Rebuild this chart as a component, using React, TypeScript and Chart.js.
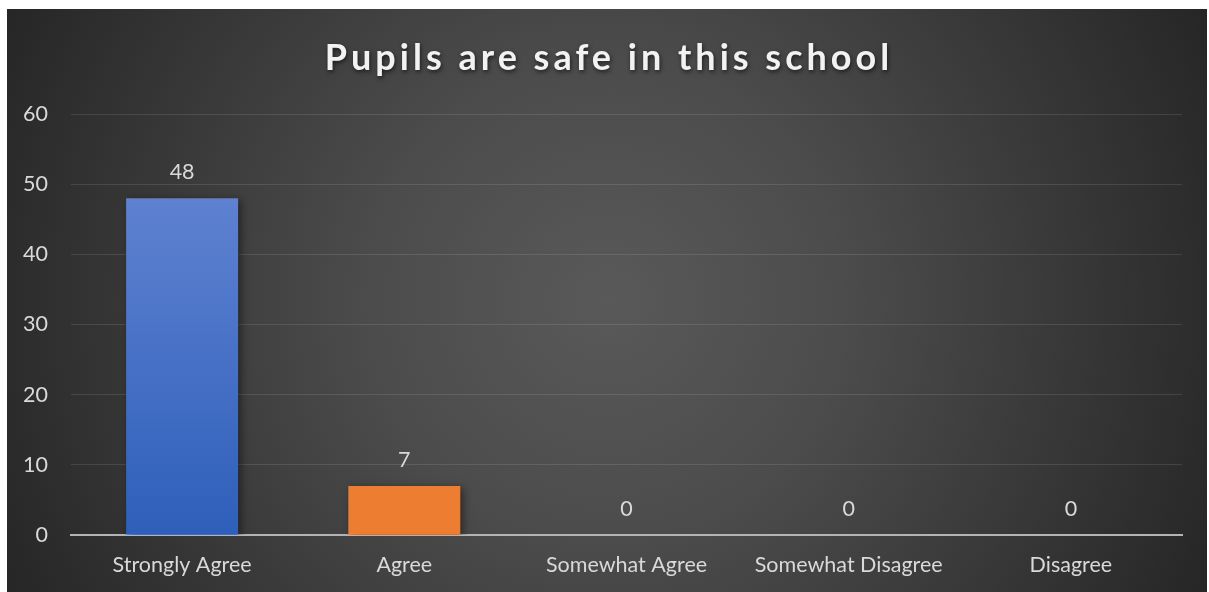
import React, { useEffect, useRef } from "react";
import { Chart, registerables } from "chart.js";

Chart.register(...registerables);

const title = "Pupils are safe in this school";
const categories = ["Strongly Agree", "Agree", "Somewhat Agree", "Somewhat Disagree", "Disagree"];
const responses = [48, 7, 0, 0, 0];
const yTicks = [0, 10, 20, 30, 40, 50, 60];

const W = 1200;
const H = 583;
const FONT = "Lato, 'Open Sans', sans-serif";
const TEXT = "#d9d9d9";
const FS = 21.5;

const bgPlugin = {
  id: "bgPlugin",
  beforeDraw(chart: any) {
    const { ctx, width, height } = chart;
    const cx = width / 2;
    const cy = height / 2;
    const r = Math.sqrt(cx * cx + cy * cy);
    const g = ctx.createRadialGradient(cx, cy, 0, cx, cy, r);
    g.addColorStop(0, "#595959");
    g.addColorStop(0.35, "#4c4c4c");
    g.addColorStop(1, "#262626");
    ctx.save();
    ctx.fillStyle = g;
    ctx.fillRect(0, 0, width, height);
    ctx.restore();
  },
};

const titlePlugin = {
  id: "titlePlugin",
  afterDraw(chart: any) {
    const { ctx, width } = chart;
    ctx.save();
    (ctx as any).letterSpacing = "4px";
    ctx.font = `bold 36px ${FONT}`;
    ctx.textAlign = "center";
    ctx.textBaseline = "alphabetic";
    ctx.shadowColor = "rgba(0,0,0,0.6)";
    ctx.shadowBlur = 4;
    ctx.shadowOffsetX = 1;
    ctx.shadowOffsetY = 2;
    ctx.fillStyle = "#f2f2f2";
    ctx.fillText(title, width / 2 + 2, 61);
    ctx.restore();
  },
};

const shadowPlugin = {
  id: "shadowPlugin",
  beforeDatasetsDraw(chart: any) {
    const ctx = chart.ctx;
    ctx.save();
    ctx.shadowColor = "rgba(0,0,0,0.45)";
    ctx.shadowBlur = 8;
    ctx.shadowOffsetX = 3;
    ctx.shadowOffsetY = 2;
  },
  afterDatasetsDraw(chart: any) {
    chart.ctx.restore();
  },
};

const labelPlugin = {
  id: "labelPlugin",
  afterDatasetsDraw(chart: any) {
    const { ctx } = chart;
    const meta = chart.getDatasetMeta(0);
    ctx.save();
    ctx.font = `${FS}px ${FONT}`;
    ctx.fillStyle = TEXT;
    ctx.textAlign = "center";
    ctx.textBaseline = "alphabetic";
    meta.data.forEach((bar: any, i: number) => {
      ctx.fillText(String(responses[i]), bar.x, bar.y - 19);
    });
    ctx.restore();
  },
};

export default function App() {
  const ref = useRef<HTMLCanvasElement>(null);
  useEffect(() => {
    if (!ref.current) return;
    const chart = new Chart(ref.current, {
      type: "bar",
      data: {
        labels: categories,
        datasets: [
          {
            data: responses,
            backgroundColor: (c: any) => {
              const area = c.chart.chartArea;
              if (c.dataIndex === 0) {
                if (!area) return "#4472c4";
                const g = c.chart.ctx.createLinearGradient(0, area.top, 0, area.bottom);
                g.addColorStop(0, "#6a8ad6");
                g.addColorStop(1, "#2e5fba");
                return g;
              }
              return ["#4472c4", "#ed7d31", "#a5a5a5", "#ffc000", "#5b9bd5"][c.dataIndex];
            },
            borderWidth: 0,
            barPercentage: 0.504,
            categoryPercentage: 1,
          },
        ],
      },
      options: {
        responsive: false,
        animation: false,
        layout: { padding: { top: 105, left: 0, right: 25, bottom: 0 } },
        plugins: { legend: { display: false }, tooltip: { enabled: false }, title: { display: false } },
        scales: {
          x: {
            grid: { display: false, drawTicks: false },
            border: { display: true, color: "#b4b4b4", width: 2 },
            ticks: { color: TEXT, font: { family: FONT, size: FS }, padding: 17, maxRotation: 0 },
            afterFit: (s: any) => {
              s.height = 57;
            },
          },
          y: {
            min: 0,
            max: 60,
            afterBuildTicks: (s: any) => {
              s.ticks = yTicks.map((v) => ({ value: v }));
            },
            grid: { color: "rgba(255,255,255,0.11)", lineWidth: 1, drawTicks: false },
            border: { display: false },
            ticks: { color: TEXT, font: { family: FONT, size: FS }, padding: 23 },
            afterFit: (s: any) => {
              s.width = 64;
            },
          },
        },
      },
      plugins: [bgPlugin, shadowPlugin, labelPlugin, titlePlugin],
    });
    return () => chart.destroy();
  }, []);
  return (
    <div style={{ position: "absolute", left: 7, top: 9, width: W, height: H }}>
      <canvas ref={ref} width={W} height={H} style={{ display: "block" }} />
    </div>
  );
}
